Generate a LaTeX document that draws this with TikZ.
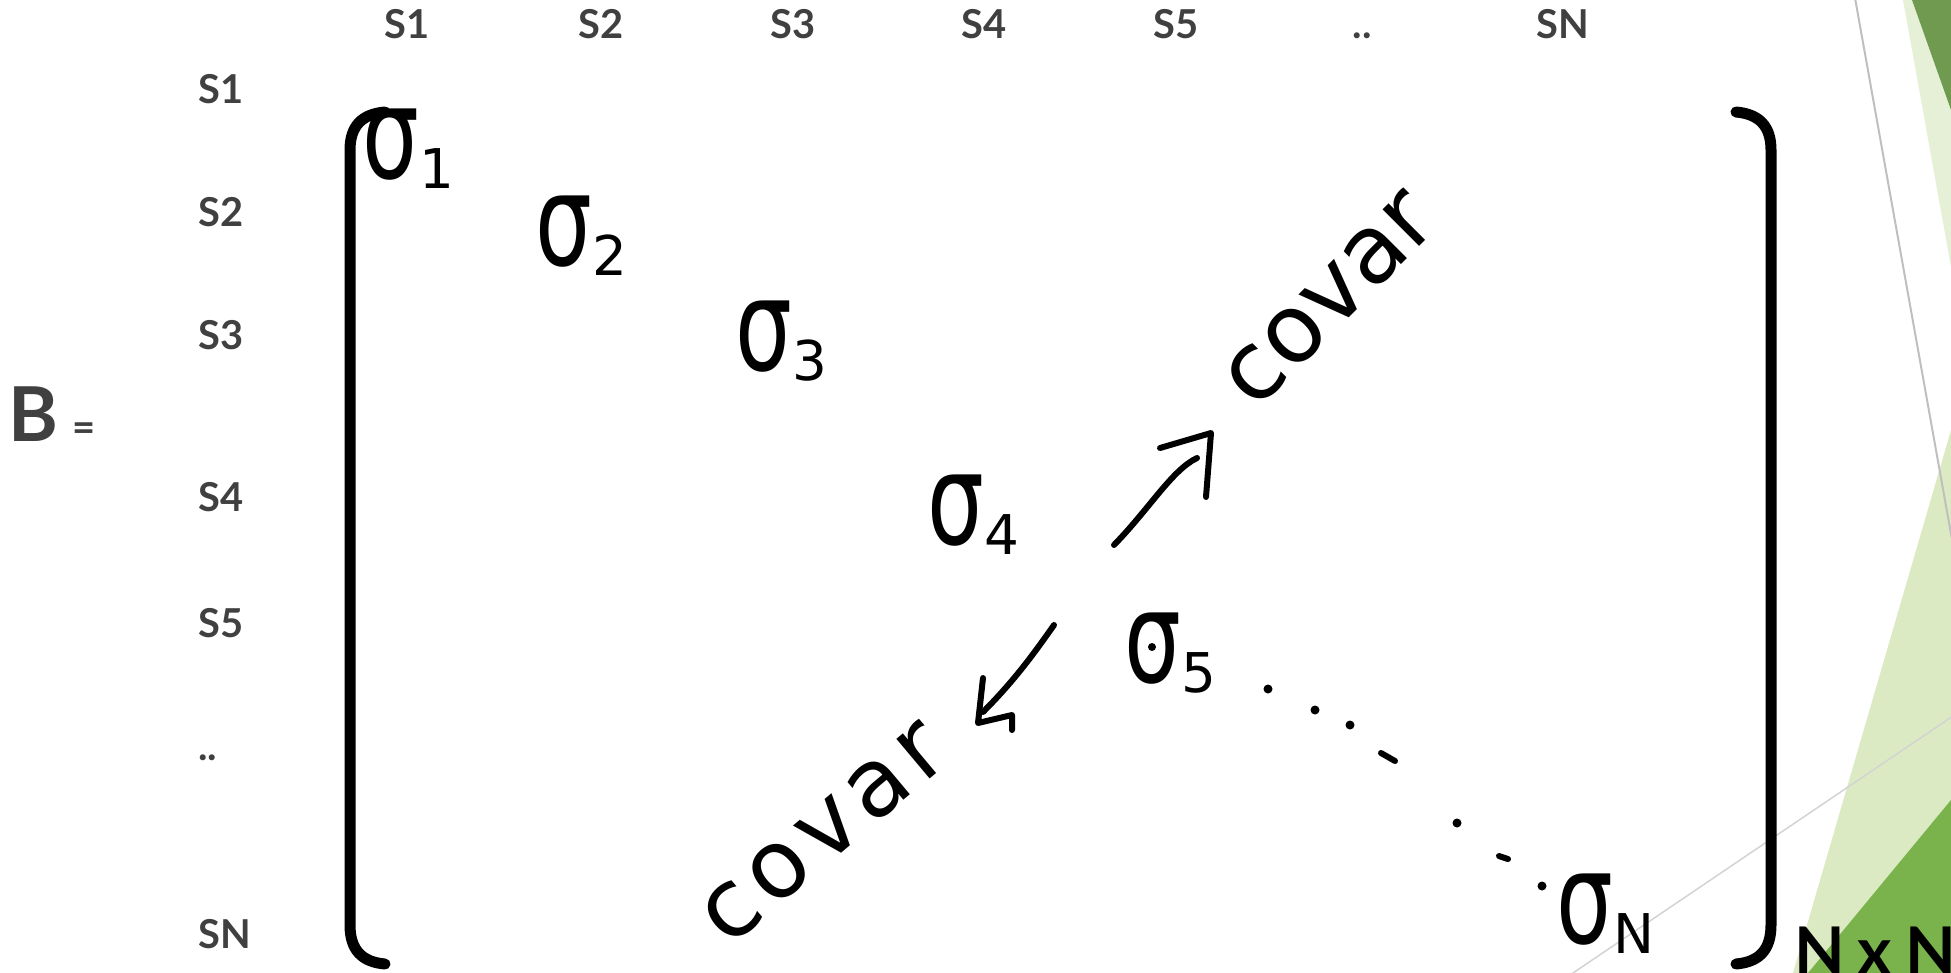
\documentclass[tikz,border=0pt]{standalone}
\usepackage{fontspec}
\usepackage{graphicx}
\setmainfont{Lato}
\newfontfamily\hand{DejaVu Sans}
\definecolor{lbl}{HTML}{404040}
\definecolor{gdark}{HTML}{6F9A50}
\definecolor{gpale}{HTML}{E6F0D7}
\definecolor{glight}{HTML}{DCEAC3}
\definecolor{gmid}{HTML}{7AB34B}
\definecolor{gline}{HTML}{BFBFBF}
\definecolor{gline2}{HTML}{D3D3D3}
\newcommand\sgm[1]{{\hand\fontsize{90}{90}\selectfont\scalebox{1}[1.42]{σ}}\raisebox{-10bp}{\hand\fontsize{55}{55}\selectfont #1}}
\tikzset{
  lab/.style={text=lbl, font=\fontsize{40}{40}\selectfont\bfseries, inner sep=0pt},
  hw/.style={inner sep=0pt, text=black},
  cov/.style={inner sep=0pt, text=black, font=\hand\fontsize{95}{95}\selectfont},
  brk/.style={line width=11bp, line cap=round, line join=round, black},
  pen/.style={line width=6bp, line cap=round, line join=round, black},
}
\begin{document}
\begin{tikzpicture}[x=1bp,y=-1bp]
\useasboundingbox (0,0) rectangle (1951,973);
% decoration
\begin{scope}
\clip (0,0) rectangle (1951,973);
\fill[gpale] (1903,0) -- (1912,0) -- (1951,110) -- (1951,267) -- cycle;
\fill[gdark] (1912,0) -- (1951,0) -- (1951,110) -- cycle;
\fill[glight] (1951,430) -- (1793,973) -- (1951,973) -- cycle;
\fill[gmid] (1951,800) -- (1808,973) -- (1951,973) -- cycle;
\draw[gline, line width=2bp] (1855,-2) -- (1953,545);
\draw[gline2, line width=1.5bp] (1570,975) -- (1953,716);
\end{scope}
% labels
\foreach \n/\x/\t in {c1/407/S1, c2/601/S2, c3/793/S3, c4/984/S4, c5/1176/S5, c6/1362/.., c7/1563/SN}
  \node[lab, anchor=base] (\n) at (\x,38) {\t};
\foreach \n/\y/\t in {r1/103/S1, r2/226/S2, r3/349/S3, r4/511/S4, r5/637/S5, r6/760/.., r7/948/SN}
  \node[lab, anchor=base west] (\n) at (198,\y) {\t};
\node[lab, anchor=base west, font=\fontsize{76}{76}\selectfont\bfseries] (B) at (8,441) {B};
\node[lab, anchor=base west, font=\fontsize{40}{40}\selectfont\bfseries] (eq) at (72,441) {=};
% brackets
\draw[brk] (385,112) .. controls (362,114) and (350,126) .. (350,150) -- (350,925) .. controls (350,950) and (362,962) .. (385,964);
\draw[brk] (1736,112) .. controls (1759,114) and (1771,126) .. (1771,150) -- (1771,925) .. controls (1771,950) and (1759,962) .. (1736,964);
\node[anchor=base west, inner sep=0pt, font=\fontsize{66}{66}\selectfont\bfseries] (nxn) at (1794,974) {N\hspace{13bp}x\hspace{13bp}N};
% diagonal
\node[hw, anchor=base west] (s1) at (362,178) {\sgm{1}};
\node[hw, anchor=base west] (s2) at (535,265) {\sgm{2}};
\node[hw, anchor=base west] (s3) at (735,370) {\sgm{3}};
\node[hw, anchor=base west] (s4) at (927,544) {\sgm{4}};
\node[hw, anchor=base west] (s5) at (1124,682) {\sgm{5}};
\node[hw, anchor=base west] (sN) at (1556,943) {\sgm{N}};
\fill (1152,647) circle (4bp);
% covar labels
\node[cov, rotate=45] (cvu) at (1330,300) {covar};
\node[cov, rotate=40, font=\hand\fontsize{95}{95}\selectfont\addfontfeature{LetterSpace=8}] (cvl) at (824,834) {covar};
% arrows
\coordinate (ua0) at (1114,545);
\coordinate (ua1) at (1197,458);
\draw[pen] (ua0) .. controls (1150,508) and (1172,470) .. (ua1);
\draw[pen] (1160,448) -- (1211,433) -- (1206,497);
\coordinate (la0) at (1054,625);
\coordinate (la1) at (983,712);
\draw[pen] (la0) .. controls (1035,652) and (1015,680) .. (la1);
\draw[pen] (983,678) -- (978,723) -- (1012,715) -- (1012,730);
% dots
\foreach \p in {(1268,689),(1315,710),(1350,725),(1457,823),(1542,886)}
  \fill \p circle (4.5bp);
\draw[pen] (1381,753) -- (1395,761);
\draw[pen] (1499,856) -- (1508,859);
\end{tikzpicture}
\end{document}
